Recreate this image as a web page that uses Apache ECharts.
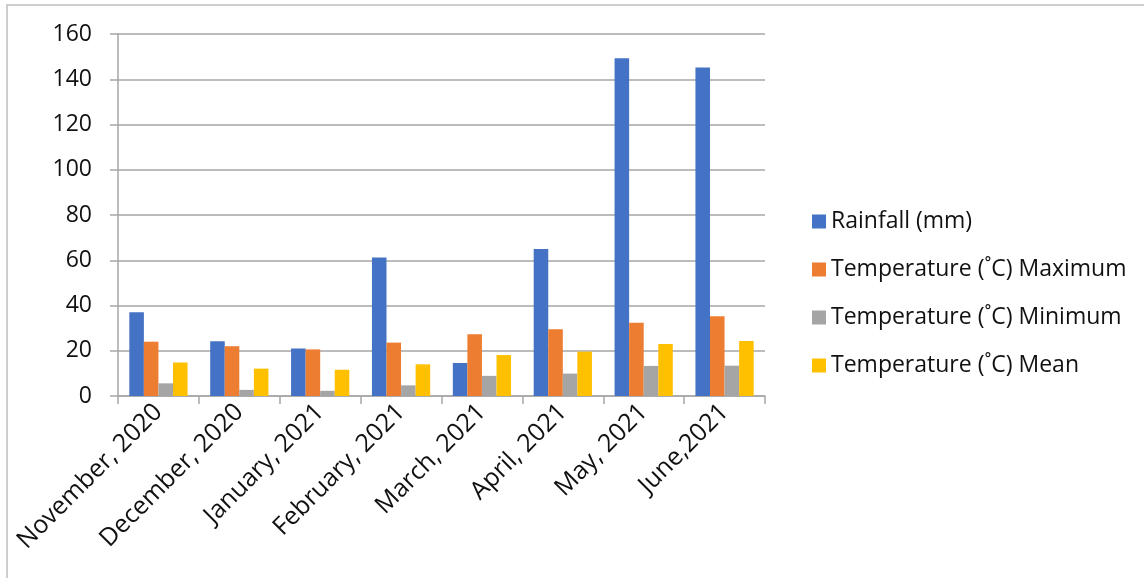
<!DOCTYPE html>
<html>
<head>
<meta charset="utf-8">
<script src="https://cdn.jsdelivr.net/npm/echarts@6/dist/echarts.min.js"></script>
<style>
html, body { margin: 0; padding: 0; background: #fff; }
#main { width: 1144px; height: 578px; }
</style>
</head>
<body>
<div id="main"></div>
<script>
// categories and values
var months = ['November, 2020', 'December, 2020', 'January, 2021', 'February, 2021',
	'March, 2021', 'April, 2021', 'May, 2021', 'June,2021'];
var rainfall = [37, 24.2, 21, 61.2, 14.6, 65, 149.3, 145.2];
var tempMax = [24, 22, 20.6, 23.6, 27.3, 29.5, 32.4, 35.2];
var tempMin = [5.6, 2.7, 2.3, 4.7, 8.9, 9.9, 13.3, 13.4];
var tempMean = [14.8, 12.1, 11.6, 14, 18.1, 19.6, 23, 24.3];

var fontName = 'Open Sans';

function makeBar(name, data, color) {
	return {
		name : name,
		type : 'bar',
		data : data,
		barGap : '0%',
		barCategoryGap : '28%',
		itemStyle : {
			color : color
		}
	};
}

var myChart = echarts.init(document.getElementById('main'));
var option = {
	animation : false,
	backgroundColor : '#fff',
	textStyle : {
		fontFamily : fontName
	},
	graphic : [ {
		type : 'rect',
		shape : { x : 7, y : 5, width : 1160, height : 600 },
		style : { fill : 'none', stroke : '#bfbfbf', lineWidth : 1.5 },
		silent : true
	} ],
	grid : {
		left : 118,
		right : 379,
		top : 34,
		bottom : 182
	},
	legend : {
		orient : 'vertical',
		left : 807,
		top : 205,
		itemWidth : 14,
		itemHeight : 14,
		itemGap : 25,
		icon : 'rect',
		textStyle : {
			fontSize : 23,
			color : '#111',
			fontFamily : fontName
		},
		data : [ 'Rainfall (mm)', 'Temperature (˚C) Maximum',
				'Temperature (˚C) Minimum', 'Temperature (˚C) Mean' ]
	},
	xAxis : {
		type : 'category',
		data : months,
		axisLine : { lineStyle : { color : '#a6a6a6', width : 1.5 } },
		axisTick : { show : true, length : 8, lineStyle : { color : '#a6a6a6', width : 1.5 } },
		axisLabel : {
			rotate : 45,
			interval : 0,
			fontSize : 25,
			color : '#111',
			margin : 12,
			padding : [ 0, 0, 0, 0 ],
			fontFamily : fontName
		}
	},
	yAxis : {
		type : 'value',
		min : 0,
		max : 160,
		interval : 20,
		axisLine : { show : true, lineStyle : { color : '#a6a6a6', width : 1.5 } },
		axisTick : { show : true, length : 8, lineStyle : { color : '#a6a6a6', width : 1.5 } },
		splitLine : { lineStyle : { color : '#a6a6a6', width : 1.5 } },
		axisLabel : {
			fontSize : 23,
			color : '#111',
			margin : 26,
			fontFamily : fontName
		}
	},
	series : [
		makeBar('Rainfall (mm)', rainfall, '#4472C4'),
		makeBar('Temperature (˚C) Maximum', tempMax, '#ED7D31'),
		makeBar('Temperature (˚C) Minimum', tempMin, '#A5A5A5'),
		makeBar('Temperature (˚C) Mean', tempMean, '#FFC000')
	]
};
myChart.setOption(option);
</script>
</body>
</html>
